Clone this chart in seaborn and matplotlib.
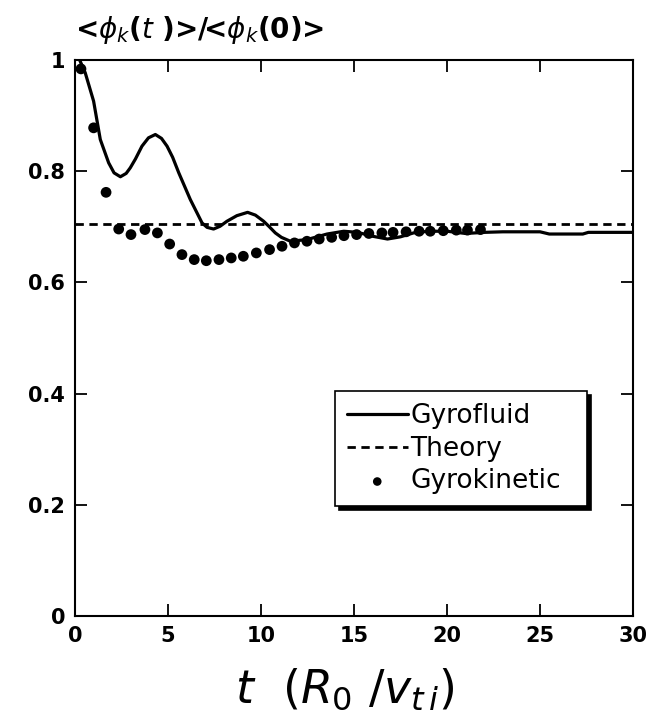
import numpy as np
import pandas as pd
import matplotlib
matplotlib.use("Agg")
import matplotlib.pyplot as plt
import seaborn as sns

# Gyrofluid (solid line)
gf_t = [0.25, 0.55, 1.0, 1.36, 1.81, 2.1, 2.44, 2.75, 2.97, 3.25, 3.6, 3.95,
        4.32, 4.65, 4.95, 5.25, 5.58, 6.2, 6.83, 7.1, 7.45, 7.8, 8.17, 8.7,
        9.28, 9.7, 10.14, 10.45, 10.77, 11.1, 11.58, 12.47, 13.55, 14.45, 15.2,
        16.0, 16.8, 17.5, 18.2, 19.0, 20.0, 21.0, 22.0, 23.0, 25.0, 25.5, 27.3,
        27.6, 30.0]
gf_v = [1.0, 0.977, 0.926, 0.857, 0.815, 0.797, 0.790, 0.796, 0.806, 0.822,
        0.845, 0.860, 0.866, 0.859, 0.845, 0.825, 0.797, 0.749, 0.707, 0.699,
        0.696, 0.701, 0.710, 0.720, 0.726, 0.721, 0.710, 0.700, 0.689, 0.681,
        0.674, 0.677, 0.687, 0.692, 0.690, 0.683, 0.678, 0.682, 0.689, 0.692,
        0.692, 0.688, 0.690, 0.691, 0.691, 0.687, 0.687, 0.690, 0.690]

# Theory (dashed)
th_t = [0.0, 30.0]
th_v = [0.705, 0.705]

# Gyrokinetic (dots)
gk_t = [0.32, 1.0, 1.67, 2.35, 3.01, 3.76, 4.43, 5.09, 5.75, 6.41, 7.06, 7.74,
        8.4, 9.05, 9.75, 10.46, 11.13, 11.8, 12.47, 13.13, 13.8, 14.46, 15.14,
        15.8, 16.5, 17.1, 17.8, 18.5, 19.1, 19.8, 20.5, 21.1, 21.8]
gk_v = [0.984, 0.878, 0.762, 0.696, 0.686, 0.695, 0.689, 0.669, 0.650, 0.641,
        0.639, 0.641, 0.644, 0.647, 0.653, 0.659, 0.665, 0.671, 0.674, 0.678,
        0.681, 0.684, 0.686, 0.688, 0.689, 0.690, 0.691, 0.692, 0.692, 0.693,
        0.694, 0.694, 0.695]

x_ticks = [0, 5, 10, 15, 20, 25, 30]
y_ticks = [0, 0.2, 0.4, 0.6, 0.8, 1]
y_tick_labels = ["0", "0.2", "0.4", "0.6", "0.8", "1"]

sns.set_style("ticks")
plt.rcParams['font.family'] = ['DejaVu Sans']
plt.rcParams['mathtext.fontset'] = 'dejavusans'
for k in ["text.color", "axes.labelcolor", "xtick.color", "ytick.color",
          "axes.edgecolor"]:
    plt.rcParams[k] = "black"

fig = plt.figure(figsize=(6.59, 7.26), dpi=100)
ax = fig.add_axes([75/659, 1-616/726, (633-75)/659, (616-60)/726])

gf = pd.DataFrame({"t": gf_t, "v": gf_v})
th = pd.DataFrame({"t": th_t, "v": th_v})
gk = pd.DataFrame({"t": gk_t, "v": gk_v})

sns.lineplot(data=gf, x="t", y="v", ax=ax, color="black", lw=2.3,
             label="Gyrofluid", sort=False)
sns.lineplot(data=th, x="t", y="v", ax=ax, color="black", lw=2.0,
             linestyle=(0, (3, 2)), label="Theory")
sns.scatterplot(data=gk, x="t", y="v", ax=ax, color="black", s=60,
                edgecolor="none", label="Gyrokinetic", zorder=3)

ax.set_xlim(0, 30)
ax.set_ylim(0, 1)
ax.set_xticks(x_ticks)
ax.set_yticks(y_ticks)
ax.set_yticklabels(y_tick_labels)
ax.tick_params(direction="in", length=8.5, width=1.3, top=True, right=True,
               labelsize=15, pad=7)
for lab in ax.get_xticklabels() + ax.get_yticklabels():
    lab.set_fontweight("bold")
for s in ax.spines.values():
    s.set_linewidth(1.5)
    s.set_visible(True)

ax.set_xlabel("")
ax.set_ylabel("")
fig.text(75/659, 1-30/726, r"<$\phi_k$($t$ )>/<$\phi_k$(0)>", fontsize=20,
         ha="left", va="center", fontweight="bold")
fig.text(345/659, 1-690/726, r"$t$  ($R_0$ /$v_{t\,i}$)", fontsize=33,
         ha="center", va="center")

leg = ax.legend(loc="upper left", bbox_to_anchor=(0.466, 0.196, 0.452, 0.208),
                mode="expand",
                frameon=True, fancybox=False, fontsize=19,
                handlelength=2.3, handletextpad=0.1, borderpad=0.45,
                labelspacing=0.25, borderaxespad=0, markerscale=0.8,
                shadow={"color": "black", "alpha": 1, "ox": 2.5, "oy": -2.5})
leg.get_frame().set_edgecolor("black")
leg.get_frame().set_linewidth(1.2)
leg.get_frame().set_alpha(1)

fig.savefig("out.png", dpi=100)
